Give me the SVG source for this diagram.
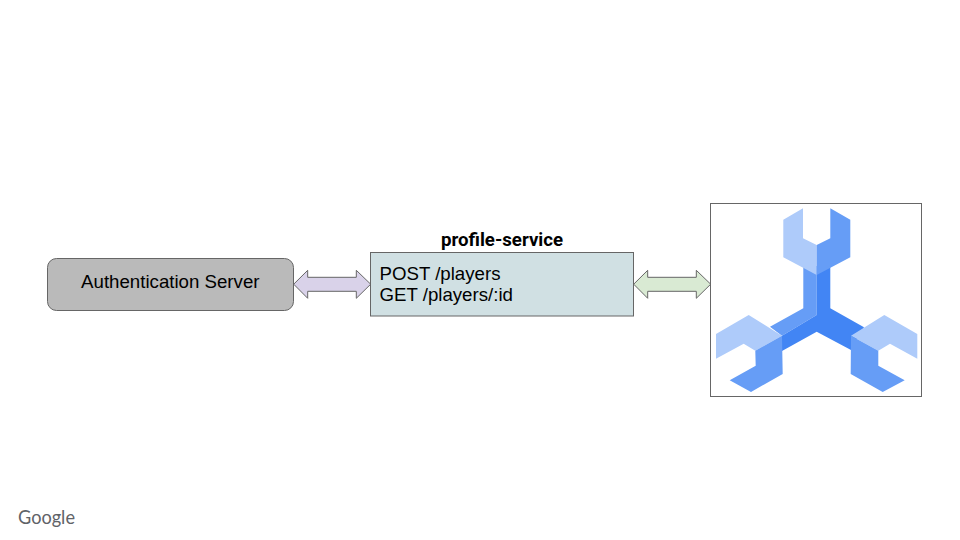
<svg xmlns="http://www.w3.org/2000/svg" width="960" height="540" viewBox="0 0 960 540">
<style>
text{font-family:"Liberation Sans",Arial,sans-serif;font-size:18.67px;fill:#000}
.box{stroke:#666;stroke-width:1}
.arrow{stroke:#666;stroke-width:1;stroke-linejoin:miter}
.l{fill:#aecbfa}.m{fill:#669df6}.d{fill:#4285f4}
</style>
<rect width="960" height="540" fill="#fff"/>
<g id="connectors">
<path class="arrow" fill="#d9d2e9" d="M293.7 284.2L307.7 270.3V277.3H356.3V270.3L370.7 284.2L356.3 298.3V291.3H307.7V298.3Z"/>
<path class="arrow" fill="#d9ead3" d="M633.7 284.2L647.7 270.3V277.3H696.3V270.3L710.7 284.2L696.3 298.3V291.3H647.7V298.3Z"/>
</g>
<g id="auth-server">
<rect class="box" x="47.5" y="258.5" width="246" height="52" rx="9" fill="#bababa"/>
<text x="170.3" y="288" text-anchor="middle">Authentication Server</text>
</g>
<g id="profile-service">
<rect class="box" x="370.5" y="252.5" width="263" height="63.5" fill="#d0e0e3"/>
<text x="502" y="246" text-anchor="middle" style="font-family:Roboto,'Liberation Sans',sans-serif;font-weight:700">profile-service</text>
<text x="379.5" y="280">POST /players</text>
<text x="379.5" y="301">GET /players/:id</text>
</g>
<g id="tools-icon">
<rect class="box" x="710.5" y="203.5" width="211" height="193" fill="#fff"/>
<path class="m" d="M803.3 266V308.3L770 326.7L782 335.7L816.7 315V266Z"/>
<path class="d" d="M816.7 266H830.3V308.3L864 327.3L851 350L816.7 331.7L782 351V335.7L816.7 315Z"/>
<path class="l" d="M803 208.3L783.3 219.7V257.3L816.7 275V245L803 238.3Z"/>
<path class="m" d="M830.3 208.3L850.3 219.7V257.3L816.7 275V245L830.3 238.3Z"/>
<path class="l" d="M716 334L748.7 315L782 335.7L755.3 350.7L743.7 343.7L716 358.7Z"/>
<path class="m" d="M782 335.7L782.7 374L751 392L729.7 380.3L755.7 365.7L755.3 350.7Z"/>
<path class="l" d="M851 335.7L884.3 315L917.3 334V358.7L890 343.7L878.3 350.7Z"/>
<path class="m" d="M851 335.7L878.3 350.7V365.7L904.7 380.3L882.7 392L850.7 374Z"/>
</g>
<g id="google-logo">
<text x="18" y="523.5" textLength="57" lengthAdjust="spacingAndGlyphs" style="font-family:Lato,'Liberation Sans',sans-serif;font-size:20px;fill:#5f6368">Google</text>
</g>
</svg>
